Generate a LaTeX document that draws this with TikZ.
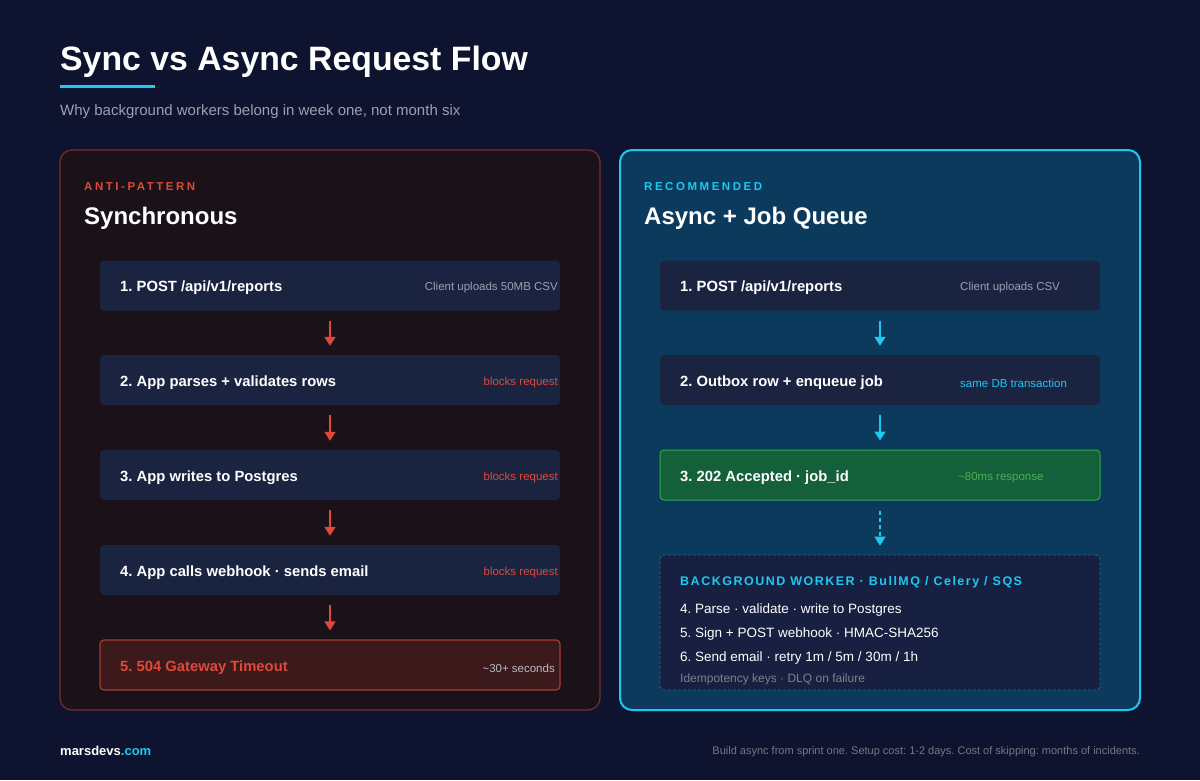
\documentclass[tikz,border=0pt]{standalone}
\usepackage{fontspec}
\setmainfont{Liberation Sans}
\usetikzlibrary{arrows.meta}
\frenchspacing
\definecolor{bg}{HTML}{0E1430}
\definecolor{lpanel}{HTML}{1B1119}
\definecolor{lborder}{HTML}{7A2E2E}
\definecolor{rpanel}{HTML}{0B3A5C}
\definecolor{cyanc}{HTML}{1EC8F0}
\definecolor{stepbg}{HTML}{1A2441}
\definecolor{redc}{HTML}{E0483A}
\definecolor{greenbg}{HTML}{14603A}
\definecolor{greenbd}{HTML}{2EA84F}
\definecolor{greentx}{HTML}{4CAF50}
\definecolor{graytx}{HTML}{9AA0AE}
\definecolor{workbg}{HTML}{172040}
\definecolor{workbd}{HTML}{1E6A8A}
\definecolor{errbg}{HTML}{3C191B}
\definecolor{errbd}{HTML}{A83A32}
\tikzset{
  stepbox/.style={rounded corners=4pt, fill=stepbg, minimum width=460pt, minimum height=50pt, inner sep=0pt},
  stxt/.style={anchor=west, text=white, inner sep=0pt, font=\bfseries\fontsize{14.8}{16}\selectfont},
  note/.style={inner sep=0pt, font=\fontsize{11.5}{13}\selectfont},
  arr/.style={-{Triangle[length=9pt,width=11pt]}, line width=1.5pt},
  wl/.style={anchor=west, text=white, font=\fontsize{13.5}{15}\selectfont},
}
\begin{document}
\begin{tikzpicture}[x=1pt,y=-1pt]
\fill[bg] (0,0) rectangle (1200,780);
\useasboundingbox (0,0) rectangle (1200,780);
\node[anchor=base west, text=white, font=\bfseries\fontsize{33.8}{38}\selectfont, inner sep=0pt] (title) at (60,70) {Sync vs Async Request Flow};
\draw[cyanc, line width=3pt] (60,86) -- (155,86);
\node[anchor=base west, text=graytx, font=\fontsize{15}{18}\selectfont, inner sep=0pt] (sub) at (60,115) {Why background workers belong in week one, not month six};
% left panel
\draw[rounded corners=12pt, fill=lpanel, draw=lborder, line width=1.2pt] (60,150) rectangle (600,710);
\node[anchor=base west, inner sep=0pt, text=redc, font=\bfseries\fontsize{11.5}{13}\selectfont\addfontfeatures{LetterSpace=22}] (lk) at (84,190) {ANTI-PATTERN};
\node[anchor=base west, inner sep=0pt, text=white, font=\bfseries\fontsize{24}{28}\selectfont] (lt) at (84,224) {Synchronous};
\node[stepbox] (l1) at (330,285.5) {};
\node[stepbox] (l2) at (330,380) {};
\node[stepbox] (l3) at (330,475) {};
\node[stepbox] (l4) at (330,570) {};
\node[stepbox, fill=errbg, draw=errbd, line width=1.2pt] (l5) at (330,665) {};
\node[stxt] at (120,287.5) {1. POST /api/v1/reports};
\node[stxt] at (120,382.5) {2. App parses + validates rows};
\node[stxt] at (120,477.5) {3. App writes to Postgres};
\node[stxt] at (120,572.5) {4. App calls webhook · sends email};
\node[stxt, text=redc] at (120,667.5) {5. 504 Gateway Timeout};
\node[note, anchor=east, text=graytx] at (558,288) {Client uploads 50MB CSV};
\node[note, anchor=east, text=redc] at (558,383) {blocks request};
\node[note, anchor=east, text=redc] at (558,478) {blocks request};
\node[note, anchor=east, text=redc] at (558,573) {blocks request};
\node[note, anchor=east, text=graytx!70!white] at (555,668) {\textasciitilde30+ seconds};
\foreach \a/\b in {l1/l2,l2/l3,l3/l4,l4/l5}
  \draw[arr, redc] ([yshift=-10pt]\a.south) -- ([yshift=9pt]\b.north);
% right panel
\draw[rounded corners=12pt, fill=rpanel, draw=cyanc, line width=2pt] (620,150) rectangle (1140,710);
\node[anchor=base west, inner sep=0pt, text=cyanc, font=\bfseries\fontsize{11.5}{13}\selectfont\addfontfeatures{LetterSpace=22}] (rk) at (644,190) {RECOMMENDED};
\node[anchor=base west, inner sep=0pt, text=white, font=\bfseries\fontsize{24}{28}\selectfont] (rt) at (644,224) {Async + Job Queue};
\node[stepbox, minimum width=440pt] (r1) at (880,285.5) {};
\node[stepbox, minimum width=440pt] (r2) at (880,380) {};
\node[stepbox, minimum width=440pt, fill=greenbg, draw=greenbd, line width=1pt] (r3) at (880,475) {};
\node[rounded corners=4pt, fill=workbg, draw=workbd, densely dashed, line width=0.8pt, minimum width=440pt, minimum height=135pt, inner sep=0pt] (r4) at (880,622.5) {};
\node[stxt] at (680,287.5) {1. POST /api/v1/reports};
\node[stxt] at (680,382.5) {2. Outbox row + enqueue job};
\node[stxt] at (680,477.5) {3. 202 Accepted · job\_id};
\node[note, anchor=west, text=graytx] at (960,288) {Client uploads CSV};
\node[note, anchor=west, text=cyanc] at (960,383) {same DB transaction};
\node[note, anchor=west, text=greentx] at (958,478) {\textasciitilde80ms response};
\draw[arr, cyanc] ([yshift=-10pt]r1.south) -- ([yshift=9pt]r2.north);
\draw[arr, cyanc] ([yshift=-10pt]r2.south) -- ([yshift=9pt]r3.north);
\draw[arr, cyanc, dash pattern=on 4pt off 3pt] ([yshift=-10pt]r3.south) -- ([yshift=9pt]r4.north);
\node[anchor=west, inner sep=0pt, text=cyanc, font=\bfseries\fontsize{12.5}{14}\selectfont\addfontfeatures{LetterSpace=12}] (wh) at (680,582) {BACKGROUND WORKER · BullMQ / Celery / SQS};
\node[wl, inner sep=0pt] (w1) at (680,610) {4. Parse · validate · write to Postgres};
\node[wl, inner sep=0pt] (w2) at (680,634) {5. Sign + POST webhook · HMAC-SHA256};
\node[wl, inner sep=0pt] (w3) at (680,658) {6. Send email · retry 1m / 5m / 30m / 1h};
\node[anchor=west, inner sep=0pt, text=graytx!80!black, font=\fontsize{12}{14}\selectfont] (w4) at (680,679) {Idempotency keys · DLQ on failure};
% footer
\node[anchor=base west, inner sep=0pt, text=white, font=\bfseries\fontsize{13}{15}\selectfont] (brand) at (60,755) {marsdevs\textcolor{cyanc}{.com}};
\node[anchor=base east, inner sep=0pt, text=graytx!75!black, font=\fontsize{11}{13}\selectfont] (foot) at (1140,754) {Build async from sprint one. Setup cost: 1-2 days. Cost of skipping: months of incidents.};
\end{tikzpicture}
\end{document}
